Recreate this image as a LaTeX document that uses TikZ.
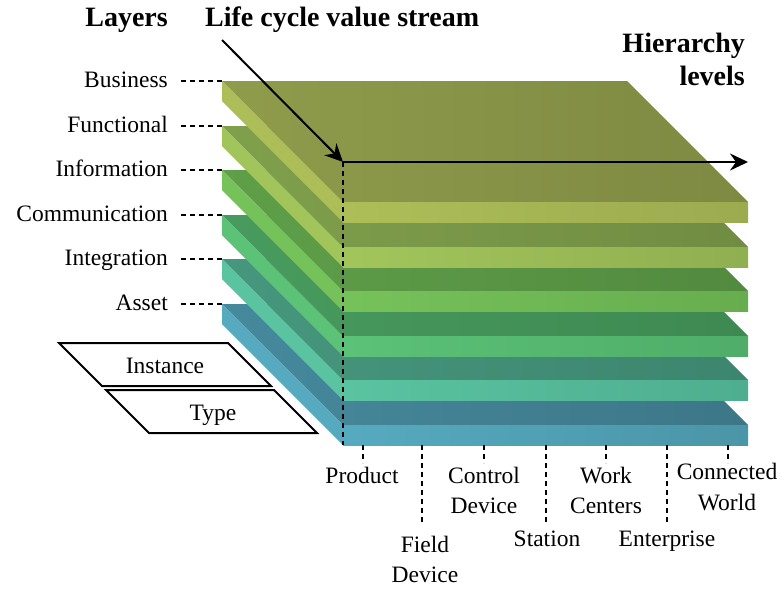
\documentclass[tikz,border=0pt]{standalone}
\usepackage{fontspec}
\setmainfont{Liberation Serif}
\usetikzlibrary{arrows.meta}
\definecolor{BusT1}{HTML}{8F9C4B}\definecolor{BusT2}{HTML}{7E8942}
\definecolor{BusF1}{HTML}{ADBE58}\definecolor{BusF2}{HTML}{9CAB4F}
\definecolor{FunT1}{HTML}{80A04C}\definecolor{FunT2}{HTML}{708C42}
\definecolor{FunF1}{HTML}{A2C55B}\definecolor{FunF2}{HTML}{90AF50}
\definecolor{InfT1}{HTML}{5F9F49}\definecolor{InfT2}{HTML}{528A3F}
\definecolor{InfF1}{HTML}{76C25A}\definecolor{InfF2}{HTML}{67AD4F}
\definecolor{ComT1}{HTML}{489B5E}\definecolor{ComT2}{HTML}{3E8952}
\definecolor{ComF1}{HTML}{5BC277}\definecolor{ComF2}{HTML}{4FAD69}
\definecolor{IntT1}{HTML}{46977D}\definecolor{IntT2}{HTML}{3D856E}
\definecolor{IntF1}{HTML}{5AC3A0}\definecolor{IntF2}{HTML}{4EAE8F}
\definecolor{AssT1}{HTML}{46899D}\definecolor{AssT2}{HTML}{3C7787}
\definecolor{AssF1}{HTML}{56AABF}\definecolor{AssF2}{HTML}{4B95A8}
\tikzset{
  lbl/.style={font=\fontsize{23.5}{30}\selectfont, inner sep=0pt},
  ttl/.style={font=\fontsize{28}{33}\selectfont\bfseries, inner sep=0pt},
  dashline/.style={line width=1.5pt, dash pattern=on 5pt off 4pt},
  bigarrow/.style={line width=2pt, -{Stealth[length=18pt,width=17pt,inset=6pt]}},
  plate/.style={line width=2pt, fill=white, line join=miter},
}
\begin{document}
\begin{tikzpicture}[x=1pt,y=-1pt]
\useasboundingbox (0,0) rectangle (781,590);

% slabs, bottom first
\foreach \t/\a/\b/\c/\d in {304/AssT1/AssT2/AssF1/AssF2,
                             259/IntT1/IntT2/IntF1/IntF2,
                             215/ComT1/ComT2/ComF1/ComF2,
                             170/InfT1/InfT2/InfF1/InfF2,
                             126/FunT1/FunT2/FunF1/FunF2,
                             81/BusT1/BusT2/BusF1/BusF2}{
  \shade[left color=\a, right color=\b] (222,\t) -- (627,\t) -- (748,{\t+121}) -- (343,{\t+121}) -- cycle;
  \shade[left color=\c, right color=\d] (343,{\t+121}) rectangle (748,{\t+141});
  \fill[\c] (222,\t) -- (343,{\t+121}) -- (343,{\t+141}) -- (222,{\t+20}) -- cycle;
}

% layer labels
\foreach \t/\n/\txt in {81/lBus/Business, 126/lFun/Functional, 170/lInf/Information,
                        215/lCom/Communication, 259/lInt/Integration, 304/lAss/Asset}{
  \node[lbl, anchor=base east] (\n) at (168,{\t+6}) {\txt};
  \coordinate (\n a) at (181,\t);
  \coordinate (\n b) at (222,\t);
  \draw[dashline] (\n a) -- (\n b);
}

% titles
\node[ttl, anchor=base east] (tLayers) at (168,26) {Layers};
\node[ttl, anchor=base west] (tLife) at (205,26) {Life cycle value stream};
\node[ttl, anchor=base east] (tHier1) at (745,52) {Hierarchy};
\node[ttl, anchor=base east] (tHier2) at (745,85) {levels};

% axes
\coordinate (origin) at (343,162);
\coordinate (lifeStart) at (222,40);
\coordinate (hierEnd) at (748,162);
\coordinate (originBottom) at (343,445);
\draw[dashline] (origin) -- (originBottom);
\draw[bigarrow] (lifeStart) -- (origin);
\draw[bigarrow] (origin) -- (hierEnd);

% hierarchy ticks
\foreach \x/\e/\n in {363/463/hP, 422/523/hF, 484/463/hC, 546/523/hS, 606/463/hW, 667/523/hE, 728/463/hN}{
  \coordinate (\n a) at (\x,445);
  \coordinate (\n b) at (\x,\e);
  \draw[dashline] (\n a) -- (\n b);
}

% hierarchy labels
\node[lbl, anchor=base] (hProd) at (362,483) {Product};
\node[lbl, anchor=base] (hField1) at (425,552) {Field};
\node[lbl, anchor=base] (hField2) at (425,582) {Device};
\node[lbl, anchor=base] (hCtrl1) at (484,483) {Control};
\node[lbl, anchor=base] (hCtrl2) at (484,513) {Device};
\node[lbl, anchor=base] (hStat) at (547,546) {Station};
\node[lbl, anchor=base] (hWork1) at (606,483) {Work};
\node[lbl, anchor=base] (hWork2) at (606,513) {Centers};
\node[lbl, anchor=base] (hEnt) at (667,546) {Enterprise};
\node[lbl, anchor=base] (hConn1) at (727,479) {Connected};
\node[lbl, anchor=base] (hConn2) at (727,510) {World};

% instance / type plates
\draw[plate] (59,343) -- (228,343) -- (271,386) -- (102,386) -- cycle;
\node[lbl, anchor=base] (inst) at (165,373) {Instance};
\draw[plate] (106,390) -- (274,390) -- (317,433) -- (149,433) -- cycle;
\node[lbl, anchor=base] (type) at (213,420) {Type};
\end{tikzpicture}
\end{document}
